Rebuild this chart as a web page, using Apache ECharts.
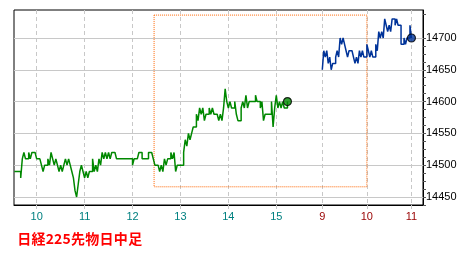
<!DOCTYPE html>
<html><head><meta charset="utf-8">
<script src="https://cdn.jsdelivr.net/npm/echarts@6/dist/echarts.min.js"></script>
<style>html,body{margin:0;padding:0;background:#fff}#c{width:475px;height:260px}</style>
</head><body><div id="c"></div>
<script>
// ---- data ----
const titleText = '日経225先物日中足';
// Day 1 session: prices every 2 minutes, first point at 9:32 (minutes after 9:00)
const day1StartMin = 32;
const day1StepMin = 2;
const day1Prices = [
  14490,14490,14490,14490,14480,14510,14520,14510,14510,14520,
  14510,14520,14520,14520,14510,14510,14510,14500,14490,14500,
  14500,14510,14500,14520,14510,14500,14510,14500,14490,14500,
  14490,14500,14510,14500,14510,14500,14490,14480,14460,14450,
  14470,14490,14500,14490,14480,14490,14480,14490,14490,14510,
  14490,14500,14490,14510,14500,14520,14510,14520,14510,14520,
  14510,14520,14520,14520,14510,14510,14510,14510,14510,14510,
  14510,14510,14510,14510,14500,14510,14510,14510,14520,14520,
  14510,14510,14510,14510,14520,14520,14520,14510,14500,14500,
  14500,14490,14500,14490,14510,14500,14510,14510,14520,14510,
  14520,14490,14500,14500,14500,14500,14520,14540,14530,14550,
  14540,14550,14560,14560,14580,14570,14590,14580,14590,14570,
  14580,14580,14590,14580,14590,14580,14580,14580,14570,14580,
  14570,14590,14620,14600,14590,14600,14590,14590,14600,14580,
  14570,14570,14590,14600,14590,14610,14590,14600,14600,14600,
  14600,14610,14600,14600,14590,14600,14570,14580,14580,14580,
  14580,14600,14560,14590,14610,14590,14600,14590,14600,14590,
  14590,14600
];
// Day 2 session: prices every 2 minutes from 9:00
const day2StartMin = 0;
const day2StepMin = 2;
const day2Prices = [
  14650,14680,14670,14680,14660,14670,14650,14660,14660,14670,
  14680,14670,14700,14690,14700,14690,14680,14670,14680,14680,
  14680,14670,14660,14670,14660,14680,14670,14680,14670,14670,
  14690,14680,14670,14680,14670,14670,14690,14680,14710,14700,
  14710,14700,14730,14720,14710,14720,14710,14730,14730,14720,
  14730,14720,14720,14690,14690,14700,14690,14700,14700,14720,
  14700
];
// Hour tick labels along the time axis
const hourLabels  = ['10','11','12','13','14','15','9','10','11'];
const hourDay     = [1,1,1,1,1,1,2,2,2];
const hourMinutes = [60,120,180,240,300,360,0,60,120];
// Price tick labels
const priceLabels = [14450,14500,14550,14600,14650,14700];
// Dotted range box
const boxFromDay = 1, boxFromMin = 207, boxToDay = 2, boxToMin = 60;
const boxHigh = 14736, boxLow = 14466;

// ---- time axis mapping (day 2 drawn slightly compressed, as in the picture) ----
const day2Offset = 417.6, day2Scale = 0.9303;
const toAxis = (day, m) => day === 1 ? m : day2Offset + m * day2Scale;

const day1Data = day1Prices.map((v, i) => [toAxis(1, day1StartMin + i * day1StepMin), v]);
const day2Data = day2Prices.map((v, i) => [toAxis(2, day2StartMin + i * day2StepMin), v]);
const hourTicks = hourMinutes.map((m, i) => toAxis(hourDay[i], m));

const minorTicks = [];
for (let i = 0; i < priceLabels.length; i++) {
  const step = i > 0 ? priceLabels[i] - priceLabels[i - 1] : priceLabels[1] - priceLabels[0];
  for (let k = 0; k < 4; k++) minorTicks.push(priceLabels[i] - step / 4 * k);
  if (i === priceLabels.length - 1) minorTicks.push(priceLabels[i] + step / 4 * 3);
}

const titleRich = titleText.split('').map(ch => (/[0-9]/.test(ch) ? '{d|' : '{c|') + ch + '}').join('');

const GREEN = '#008800', BLUE = '#003399';
const chart = echarts.init(document.getElementById('c'), null, {renderer: 'canvas'});
chart.setOption({
  animation: false,
  backgroundColor: '#fff',
  title: {
    text: titleRich, left: 17, top: 231, padding: 0,
    textStyle: {
      rich: {
        c: {fontSize: 14, fontWeight: 'bold', color: '#ff0000', fontFamily: 'Noto Sans CJK JP', width: 14.3, align: 'center', lineHeight: 15},
        d: {fontSize: 14, fontWeight: 'bold', color: '#ff0000', fontFamily: 'Noto Sans CJK JP', width: 8.4, align: 'center', lineHeight: 15}
      }
    }
  },
  grid: {left: 14, right: 52, top: 10, bottom: 55, show: true, borderColor: '#000', borderWidth: 1, backgroundColor: '#fff', containLabel: false, outerBoundsMode: 'none'},
  xAxis: {
    type: 'value', min: 31.6, max: 543.7,
    axisLine: {show: true, lineStyle: {color: '#000', width: 1}},
    axisTick: {show: true, customValues: hourTicks, length: 4, lineStyle: {color: '#c8c8c8'}},
    axisLabel: {
      customValues: hourTicks, margin: 6,
      formatter: v => {
        const i = hourTicks.findIndex(h => Math.abs(h - v) < 0.01);
        return i < 0 ? '' : '{' + (hourDay[i] === 1 ? 'a' : 'b') + '|' + hourLabels[i] + '}';
      },
      rich: {
        a: {color: '#008080', fontSize: 11, fontFamily: 'Liberation Sans'},
        b: {color: '#990000', fontSize: 11, fontFamily: 'Liberation Sans'}
      }
    },
    splitLine: {show: true, lineStyle: {color: '#c8c8c8', type: [4, 3], width: 1}}
  },
  yAxis: [{
    type: 'value', position: 'right', min: 14437.4, max: 14744,
    axisLine: {show: true, lineStyle: {color: '#000'}},
    axisTick: {show: true, customValues: priceLabels, length: 3, lineStyle: {color: '#555'}},
    axisLabel: {customValues: priceLabels, margin: 3, color: '#000', fontSize: 11, fontFamily: 'Liberation Sans', formatter: v => String(v)},
    splitLine: {show: true, lineStyle: {color: '#c8c8c8', width: 1}}
  }, {
    type: 'value', position: 'right', min: 14437.4, max: 14744,
    axisLine: {show: false},
    axisTick: {show: true, customValues: minorTicks, length: 3, lineStyle: {color: '#555'}},
    axisLabel: {show: false},
    splitLine: {show: false}
  }],
  series: [
    {
      type: 'line', data: [], z: 1, silent: true,
      markArea: {
        silent: true,
        itemStyle: {color: 'rgba(0,0,0,0)', borderColor: '#ff6600', borderWidth: 1, borderType: [1, 1]},
        label: {show: false},
        data: [[{xAxis: toAxis(boxFromDay, boxFromMin), yAxis: boxHigh}, {xAxis: toAxis(boxToDay, boxToMin), yAxis: boxLow}]]
      }
    },
    {type: 'line', data: day1Data, step: 'end', symbol: 'none', z: 3, lineStyle: {color: GREEN, width: 1.5}},
    {type: 'line', data: day2Data, step: 'end', symbol: 'none', z: 3, lineStyle: {color: BLUE, width: 1.5}},
    {type: 'scatter', data: [day1Data[day1Data.length - 1]], symbolSize: 8, z: 4, itemStyle: {color: GREEN, borderColor: '#000', borderWidth: 1.2}},
    {type: 'scatter', data: [day2Data[day2Data.length - 1]], symbolSize: 8, z: 4, itemStyle: {color: BLUE, borderColor: '#000', borderWidth: 1.2}}
  ]
});
</script></body></html>
